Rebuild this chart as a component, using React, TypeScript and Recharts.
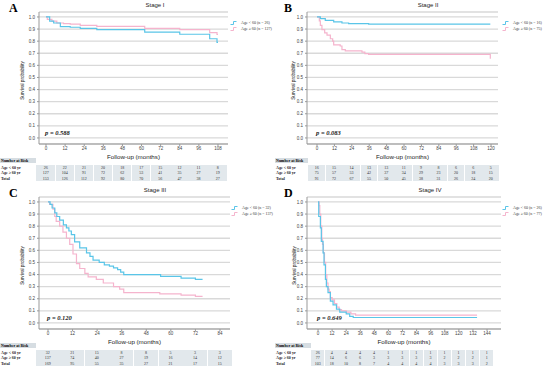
import { LineChart, Line, XAxis, YAxis, CartesianGrid } from "recharts";

const BLUE = "#5ac5e8";
const PINK = "#f5b4cd";

// survival curves [month, probability]
const s1Young = [[0, 1], [2.3, 0.965], [4.8, 0.95], [9, 0.92], [15.2, 0.915], [21.5, 0.905], [31.9, 0.895], [62, 0.875], [84, 0.857], [102.8, 0.82], [107.4, 0.79], [108, 0.79]];
const s1Old = [[0, 1], [0.8, 0.98], [3.7, 0.965], [6.8, 0.95], [11, 0.945], [15.2, 0.94], [21.5, 0.93], [31.9, 0.922], [62, 0.905], [84, 0.895], [102.8, 0.87], [107.4, 0.855], [108, 0.855]];
const s2Young = [[0, 1], [2.3, 0.986], [5.7, 0.972], [11.5, 0.959], [17.2, 0.95], [21.8, 0.945], [35.6, 0.94], [119.5, 0.94]];
const s2Old = [[0, 1], [1.6, 0.967], [2.3, 0.93], [3.4, 0.895], [5.3, 0.868], [6.9, 0.85], [9.2, 0.82], [10.8, 0.8], [11.5, 0.77], [16, 0.76], [17.2, 0.73], [19.5, 0.72], [31, 0.71], [33, 0.697], [35.6, 0.69], [119.3, 0.69], [119.5, 0.655]];
const s3Young = [[0, 1], [1, 0.98], [2, 0.95], [3.3, 0.91], [4.3, 0.88], [5.7, 0.85], [7.5, 0.81], [9, 0.785], [10.2, 0.76], [11.4, 0.73], [13, 0.67], [15.5, 0.62], [18.8, 0.58], [20.5, 0.55], [22, 0.52], [25, 0.5], [27.5, 0.48], [30, 0.47], [32, 0.455], [34, 0.44], [35.5, 0.42], [37, 0.4], [55, 0.385], [65, 0.37], [72, 0.36], [75.5, 0.36]];
const s3Old = [[0, 1], [0.8, 0.98], [2.4, 0.94], [3.3, 0.88], [4, 0.84], [5.7, 0.8], [7.3, 0.75], [9, 0.7], [10.6, 0.65], [12.2, 0.57], [13.9, 0.49], [15.5, 0.45], [18, 0.41], [19.6, 0.38], [23.6, 0.36], [27, 0.33], [32, 0.3], [35, 0.28], [37, 0.25], [54.6, 0.24], [65, 0.23], [72, 0.22], [75.5, 0.22]];
const s4Young = [[0, 1], [0.6, 0.88], [2, 0.785], [2.8, 0.675], [4.3, 0.58], [5.1, 0.48], [6.3, 0.36], [7.1, 0.3], [8.5, 0.25], [10.5, 0.18], [12.8, 0.15], [15.7, 0.115], [18.5, 0.09], [24, 0.075], [27, 0.055], [30, 0.045], [135.5, 0.045]];
const s4Old = [[0, 1], [0.9, 0.97], [1.5, 0.9], [2.3, 0.8], [3.2, 0.7], [3.8, 0.65], [4.6, 0.58], [5.5, 0.5], [6.5, 0.4], [7.5, 0.33], [8.5, 0.28], [9.5, 0.26], [10.5, 0.21], [12, 0.19], [14, 0.16], [16, 0.13], [18, 0.11], [20, 0.1], [24, 0.09], [28, 0.075], [32, 0.065], [135.5, 0.065]];

// numbers at risk
const s1Ticks = [0, 12, 24, 36, 48, 60, 72, 84, 96, 108];
const s1RiskYoung = [26, 22, 21, 20, 18, 17, 15, 12, 11, 8];
const s1RiskOld = [127, 104, 91, 72, 62, 53, 41, 35, 27, 19];
const s1RiskTotal = [153, 126, 112, 92, 80, 70, 56, 47, 38, 27];

const s2Ticks = [0, 12, 24, 36, 48, 60, 72, 84, 96, 108, 120];
const s2RiskYoung = [16, 15, 14, 13, 13, 11, 9, 8, 6, 6, 5];
const s2RiskOld = [75, 57, 53, 42, 37, 34, 29, 23, 20, 18, 15];
const s2RiskTotal = [91, 72, 67, 55, 50, 45, 38, 31, 26, 24, 20];

const s3Ticks = [0, 12, 24, 36, 48, 60, 72, 84];
const s3RiskYoung = [32, 21, 15, 8, 8, 5, 3, 3];
const s3RiskOld = [137, 74, 40, 27, 19, 16, 14, 12];
const s3RiskTotal = [169, 95, 55, 35, 27, 21, 17, 15];

const s4Ticks = [0, 12, 24, 36, 48, 60, 72, 84, 96, 108, 120, 132, 144];
const s4RiskYoung = [26, 4, 4, 4, 4, 1, 1, 1, 1, 1, 1, 1, 1];
const s4RiskOld = [77, 14, 6, 6, 3, 3, 3, 3, 3, 2, 2, 2, 1];
const s4RiskTotal = [103, 18, 10, 8, 7, 4, 4, 4, 4, 3, 3, 3, 2];

const yTicks = [0, 0.1, 0.2, 0.3, 0.4, 0.5, 0.6, 0.7, 0.8, 0.9, 1.0];

const panels = [
  { letter: "A", title: "Stage I", p: "p = 0.588", nYoung: 26, nOld: 127, young: s1Young, old: s1Old, ticks: s1Ticks, risk: [s1RiskYoung, s1RiskOld, s1RiskTotal], left: 39, right: 228, x0: -4.4, x1: 114.3, top: 0, off: 0, titleX: 155, ylabX: 22, pX: 45, legX: 230 },
  { letter: "B", title: "Stage II", p: "p = 0.083", nYoung: 16, nOld: 75, young: s2Young, old: s2Old, ticks: s2Ticks, risk: [s2RiskYoung, s2RiskOld, s2RiskTotal], left: 32, right: 223, x0: -6.9, x1: 124.8, top: 0, off: 275, titleX: 153, ylabX: 18, pX: 41, legX: 227 },
  { letter: "C", title: "Stage III", p: "p = 0.120", nYoung: 32, nOld: 137, young: s3Young, old: s3Old, ticks: s3Ticks, risk: [s3RiskYoung, s3RiskOld, s3RiskTotal], left: 39, right: 230, x0: -4.4, x1: 88.9, top: 185, off: 0, titleX: 155, ylabX: 22, pX: 47, legX: 231 },
  { letter: "D", title: "Stage IV", p: "p = 0.649", nYoung: 26, nOld: 77, young: s4Young, old: s4Old, ticks: s4Ticks, risk: [s4RiskYoung, s4RiskOld, s4RiskTotal], left: 32, right: 226, x0: -9.4, x1: 155.9, top: 185, off: 275, titleX: 155, ylabX: 19, pX: 42, legX: 227 },
];

const toPts = (arr: number[][]) => arr.map(([t, s]) => ({ t, s }));
const SERIF = "'Liberation Serif', 'Times New Roman', serif";
const SANS = "'Liberation Sans', Arial, sans-serif";

function LegendIcon({ color }: { color: string }) {
  return (
    <svg width={7} height={4} style={{ display: "inline-block", marginRight: 4, verticalAlign: "middle" }}>
      <path d="M0.5 3.5 H3.5 V0.5 H6.5" fill="none" stroke={color} strokeWidth={1} />
    </svg>
  );
}

function Panel({ cfg }: { cfg: any }) {
  const { left, right, x0, x1, ticks } = cfg;
  const px = (t: number) => left + ((t - x0) / (x1 - x0)) * (right - left);
  const colW = px(ticks[1]) - px(ticks[0]);
  const tableLeft = px(ticks[0]) - colW / 2;
  const rowNames = ["Age < 60 yr", "Age \u2265 60 yr", "Total"];
  const rowTops = [164.5, 170.2, 175.9];
  return (
    <div style={{ position: "absolute", left: cfg.off, top: cfg.top, width: 275, height: 185, overflow: "hidden" }}>
      <div style={{ position: "absolute", left: 9, top: 1, fontFamily: SERIF, fontWeight: 700, fontSize: 12 }}>{cfg.letter}</div>
      <div style={{ position: "absolute", left: cfg.titleX - 30, width: 60, top: 2, textAlign: "center", fontFamily: SANS, fontWeight: 500, fontSize: 6, color: "#222" }}>{cfg.title}</div>
      <div style={{ position: "absolute", left: 0, top: 0 }}>
        <LineChart width={275} height={155} margin={{ top: 12, right: 275 - right, bottom: 0, left: left - 14 }}>
          <CartesianGrid vertical={false} stroke="#d9d9d9" strokeWidth={1.3} />
          <XAxis dataKey="t" type="number" domain={[x0, x1]} ticks={ticks} allowDataOverflow height={11}
            tick={{ fontSize: 4.5, fontFamily: SANS, fill: "#444" }} tickSize={2} tickMargin={1} stroke="#999" interval={0} />
          <YAxis type="number" domain={[-0.05, 1.041]} ticks={yTicks} allowDataOverflow width={14}
            tickFormatter={(v: number) => v.toFixed(1)}
            tick={{ fontSize: 4.5, fontFamily: SANS, fill: "#444" }} tickSize={2} tickMargin={2} stroke="#999" interval={0} />
          <Line data={toPts(cfg.old)} dataKey="s" type="stepAfter" stroke={PINK} strokeWidth={1.2} dot={false} isAnimationActive={false} />
          <Line data={toPts(cfg.young)} dataKey="s" type="stepAfter" stroke={BLUE} strokeWidth={1.2} dot={false} isAnimationActive={false} />
        </LineChart>
      </div>
      <div style={{ position: "absolute", left: cfg.ylabX - 40, width: 80, top: 78, textAlign: "center", transform: "rotate(-90deg)", fontFamily: SANS, fontSize: 4.6, color: "#111" }}>Survival probability</div>
      <div style={{ position: "absolute", left: cfg.pX, top: 129, fontFamily: SERIF, fontStyle: "italic", fontWeight: 700, fontSize: 6.5, color: "#222" }}>{cfg.p}</div>
      <div style={{ position: "absolute", left: cfg.legX, top: 20, fontFamily: SERIF, fontSize: 4, color: "#333", whiteSpace: "nowrap", lineHeight: "6px" }}>
        <div><LegendIcon color={BLUE} />Age &lt; 60 (n = {cfg.nYoung})</div>
        <div><LegendIcon color={PINK} />Age &#8805; 60 (n = {cfg.nOld})</div>
      </div>
      <div style={{ position: "absolute", left: (left + right) / 2 - 50, width: 100, top: 153, textAlign: "center", fontFamily: SANS, fontWeight: 500, fontSize: 6.2, color: "#222" }}>Follow-up (months)</div>
      <div style={{ position: "absolute", left: 0, top: 157.5, width: tableLeft, height: 5.5, background: "#d6dde2", fontFamily: SERIF, fontWeight: 700, fontSize: 4, lineHeight: "5.5px", paddingLeft: 1, boxSizing: "border-box", whiteSpace: "nowrap" }}>Number at Risk</div>
      {cfg.risk.map((row: number[], ri: number) => (
        <div key={ri}>
          <div style={{ position: "absolute", left: 0, top: rowTops[ri], width: tableLeft, height: 5.5, fontFamily: SERIF, fontWeight: 700, fontSize: 4, lineHeight: "5.5px", paddingLeft: 1, boxSizing: "border-box", whiteSpace: "nowrap", color: "#222" }}>{rowNames[ri]}</div>
          {row.map((v: number, ci: number) => (
            <div key={ci} style={{ position: "absolute", left: px(ticks[ci]) - colW / 2, top: rowTops[ri], width: colW - 0.6, height: 5.5, background: "#e2e8ec", fontFamily: SERIF, fontSize: 4, lineHeight: "5.5px", textAlign: "center", color: "#333" }}>{v}</div>
          ))}
        </div>
      ))}
    </div>
  );
}

export default function App() {
  return (
    <div style={{ position: "absolute", left: 0, top: 0, width: 550, height: 370, background: "#fff" }}>
      {panels.map((c) => <Panel key={c.letter} cfg={c} />)}
    </div>
  );
}
